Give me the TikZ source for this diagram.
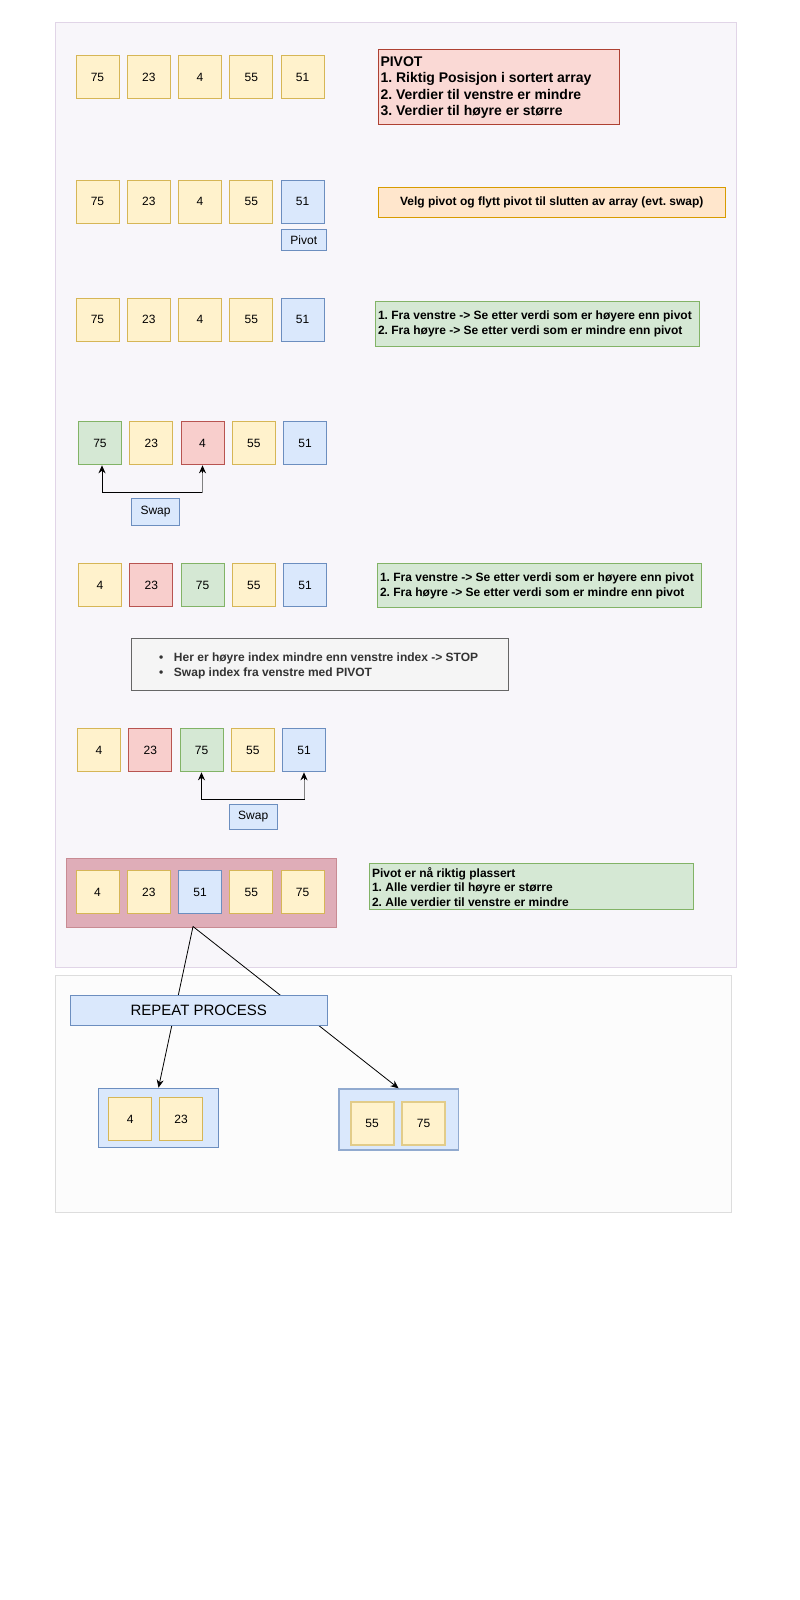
\documentclass[tikz,border=0pt]{standalone}
\usepackage{fontspec}
\setmainfont{Liberation Sans}
\usetikzlibrary{arrows.meta,calc}
\definecolor{yelF}{HTML}{FFF2CC}\definecolor{yelD}{HTML}{D6B656}
\definecolor{bluF}{HTML}{DAE8FC}\definecolor{bluD}{HTML}{6C8EBF}
\definecolor{grnF}{HTML}{D5E8D4}\definecolor{grnD}{HTML}{82B366}
\definecolor{redF}{HTML}{F8CECC}\definecolor{redD}{HTML}{B85450}
\definecolor{pivF}{HTML}{FAD9D5}\definecolor{pivD}{HTML}{AE4132}
\definecolor{orgF}{HTML}{FFE6CC}\definecolor{orgD}{HTML}{D79B00}
\definecolor{gryF}{HTML}{F5F5F5}\definecolor{gryD}{HTML}{666666}\definecolor{gryT}{HTML}{333333}
\definecolor{c1F}{HTML}{F8F6FA}\definecolor{c1D}{HTML}{E1D5E7}
\definecolor{c2F}{HTML}{FCFCFC}\definecolor{c2D}{HTML}{DDDDDD}
\definecolor{pnkF}{HTML}{DFADB8}\definecolor{pnkD}{HTML}{C88B93}
\definecolor{edgeG}{HTML}{808080}
\frenchspacing
\begin{document}
\begin{tikzpicture}[x=1pt,y=-1pt,
  every node/.style={line width=1pt},
  cell/.style={draw, minimum width=43pt, minimum height=43pt, inner sep=0pt, anchor=north west, font=\fontsize{12}{14}\selectfont},
  cY/.style={fill=yelF, draw=yelD},
  cB/.style={fill=bluF, draw=bluD},
  cG/.style={fill=grnF, draw=grnD},
  cR/.style={fill=redF, draw=redD},
  infobox/.style={draw, anchor=north west, inner sep=0pt},
  boldtxt/.style={font=\bfseries\fontsize{12}{15}\selectfont, align=left, inner sep=0pt, anchor=west},
  tip/.tip={Stealth[length=8pt,width=7pt]},
  conn/.style={line width=1pt, tip-tip},
  arr/.style={line width=0.8pt, -{Stealth[length=8pt,width=7pt]}}]
\fill[white] (0,0) rectangle (800,1600);
\useasboundingbox (0,0) rectangle (800,1600);

% containers
\node[infobox, fill=c1F, draw=c1D, minimum width=680.5pt, minimum height=944.5pt] (cont1) at (55,22) {};
\node[infobox, fill=c2F, draw=c2D, minimum width=676pt, minimum height=236.5pt] (cont2) at (55,975) {};

% row 1
\foreach \v/\c [count=\i] in {75/cY,23/cY,4/cY,55/cY,51/cY}
  \node[cell,\c] (r1-\i) at ({75.5+51.25*(\i-1)},55) {\v};
\node[infobox, fill=pivF, draw=pivD, minimum width=241.5pt, minimum height=75.5pt] (pivbox) at (377.5,49) {};
\node[font=\bfseries\fontsize{14}{16.5}\selectfont, align=left, inner sep=0pt, anchor=west] (pivtxt) at (380,87.5)
  {PIVOT\\1. Riktig Posisjon i sortert array\\2. Verdier til venstre er mindre\\3. Verdier til høyre er større};

% row 2
\foreach \v/\c [count=\i] in {75/cY,23/cY,4/cY,55/cY,51/cB}
  \node[cell,\c] (r2-\i) at ({75.5+51.25*(\i-1)},179.5) {\v};
\node[draw=bluD, fill=bluF, anchor=north west, minimum width=44.5pt, minimum height=21.5pt, inner sep=0pt, font=\fontsize{12}{14}\selectfont] (pivlbl) at (281,228.5) {Pivot};
\node[infobox, fill=orgF, draw=orgD, minimum width=347.5pt, minimum height=30.5pt, font=\bfseries\fontsize{12}{14}\selectfont] (orgbox) at (377.5,186.5) {Velg pivot og flytt pivot til slutten av array (evt. swap)};

% row 3
\foreach \v/\c [count=\i] in {75/cY,23/cY,4/cY,55/cY,51/cB}
  \node[cell,\c] (r3-\i) at ({75.5+51.25*(\i-1)},297.5) {\v};
\node[infobox, fill=grnF, draw=grnD, minimum width=323.5pt, minimum height=45pt] (grn1) at (375,300.5) {};
\node[boldtxt] (grn1t) at (377.5,323.5) {1. Fra venstre -> Se etter verdi som er høyere enn pivot\\2. Fra høyre -> Se etter verdi som er mindre enn pivot};

% row 4
\foreach \v/\c [count=\i] in {75/cG,23/cY,4/cR,55/cY,51/cB}
  \node[cell,\c] (r4-\i) at ({78+51.25*(\i-1)},421.3) {\v};
\coordinate (k1) at (102,492.7);
\draw[conn] (r4-3.south) |- (k1) -- (k1 |- r4-1.south);
\draw[line width=1pt, edgeG] ($(r4-3.south)+(0,8)$) -- (r4-3.south |- k1);
\node[draw=bluD, fill=bluF, anchor=north west, minimum width=48.5pt, minimum height=26.5pt, inner sep=0pt, font=\fontsize{12}{14}\selectfont] (swap1) at (130.8,498) {Swap};

% row 5
\foreach \v/\c [count=\i] in {4/cY,23/cR,75/cG,55/cY,51/cB}
  \node[cell,\c] (r5-\i) at ({78+51.25*(\i-1)},563.3) {\v};
\node[infobox, fill=grnF, draw=grnD, minimum width=323.5pt, minimum height=44.6pt] (grn2) at (377,562.7) {};
\node[boldtxt] (grn2t) at (379.5,585.5) {1. Fra venstre -> Se etter verdi som er høyere enn pivot\\2. Fra høyre -> Se etter verdi som er mindre enn pivot};

\node[infobox, fill=gryF, draw=gryD, minimum width=377pt, minimum height=52pt] (grybox) at (131,638.3) {};
\node[boldtxt, text=gryT] (grytxt) at (158.5,665.5) {\makebox[15pt][l]{•}Her er høyre index mindre enn venstre index -> STOP\\\makebox[15pt][l]{•}Swap index fra venstre med PIVOT};

% row 6
\foreach \v/\c [count=\i] in {4/cY,23/cR,75/cG,55/cY,51/cB}
  \node[cell,\c] (r6-\i) at ({77+51.25*(\i-1)},728.3) {\v};
\coordinate (k2) at (201.5,799.3);
\draw[conn] (r6-5.south) |- (k2) -- (k2 |- r6-3.south);
\draw[line width=1pt, edgeG] ($(r6-5.south)+(0,8)$) -- (r6-5.south |- k2);
\node[draw=bluD, fill=bluF, anchor=north west, minimum width=48.5pt, minimum height=25pt, inner sep=0pt, font=\fontsize{12}{14}\selectfont] (swap2) at (228.5,804) {Swap};

% row 7
\node[infobox, fill=pnkF, draw=pnkD, minimum width=270pt, minimum height=68.3pt] (pink) at (65.5,858.3) {};
\foreach \v/\c [count=\i] in {4/cY,23/cY,51/cB,55/cY,75/cY}
  \node[cell,\c] (r7-\i) at ({75.5+51.25*(\i-1)},870.3) {\v};
\node[infobox, fill=grnF, draw=grnD, minimum width=324pt, minimum height=45.2pt] (grn3) at (369.4,863.3) {};
\node[font=\bfseries\fontsize{12}{14.5}\selectfont, align=left, inner sep=0pt, anchor=west] (grn3t) at (371.5,887) {Pivot er nå riktig plassert\\1. Alle verdier til høyre er større\\2. Alle verdier til venstre er mindre};

% sub arrays
\node[infobox, fill=bluF, draw=bluD, minimum width=119.2pt, minimum height=59.6pt] (subL) at (98.4,1087.7) {};
\node[cell,cY] (sL-1) at (108.2,1097.3) {4};
\node[cell,cY] (sL-2) at (159,1097.3) {23};
\node[infobox, fill=bluF, draw=bluD!75, line width=1.5pt, minimum width=119.6pt, minimum height=61pt] (subR) at (338,1088.3) {};
\node[cell,cY, draw=yelD!70, line width=2pt] (sR-1) at (349.5,1100.5) {55};
\node[cell,cY, draw=yelD!70, line width=2pt] (sR-2) at (401,1100.5) {75};

% connectors behind repeat box
\coordinate (split) at (193,926.5);
\draw[arr] (split) -- (subL.north);
\draw[arr] (split) -- (subR.north);

\node[infobox, fill=bluF, draw=bluD, minimum width=257.5pt, minimum height=29.5pt, font=\fontsize{15}{18}\selectfont] (repeat) at (69.5,995) {REPEAT PROCESS};
\end{tikzpicture}
\end{document}
